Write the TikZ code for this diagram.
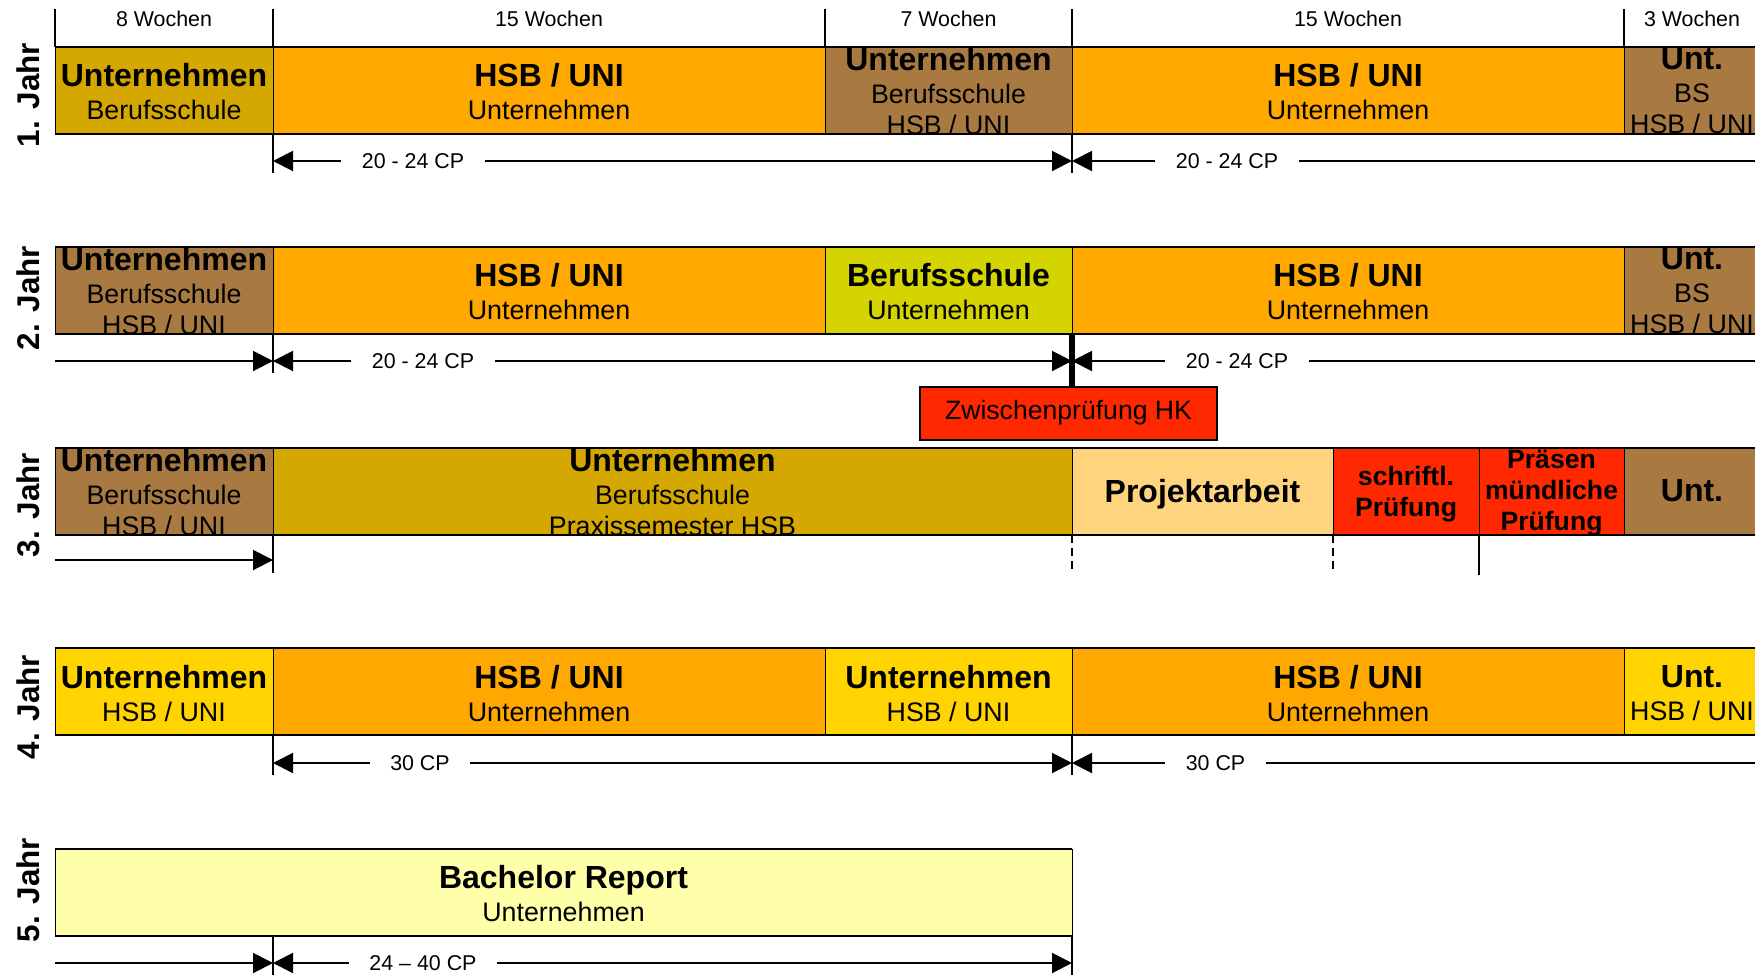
\documentclass[tikz,border=0pt]{standalone}
\usepackage{fontspec}
\setmainfont{Liberation Sans}
\usetikzlibrary{arrows.meta}

\definecolor{goldcell}{RGB}{212,168,0}
\definecolor{orangecell}{RGB}{255,168,0}
\definecolor{browncell}{RGB}{168,122,66}
\definecolor{limecell}{RGB}{212,212,0}
\definecolor{peachcell}{RGB}{255,212,127}
\definecolor{redcell}{RGB}{255,40,0}
\definecolor{yellowcell}{RGB}{255,212,0}
\definecolor{palecell}{RGB}{255,255,170}

\newcommand\cellhead[1]{{\fontsize{16}{16.6}\selectfont\bfseries #1}}

\begin{document}
\begin{tikzpicture}[
    x=0.5pt, y=-0.5pt,
    >={Triangle[length=10pt,width=10pt]},
    cellbox/.style={draw=black, line width=0.5pt},
    rowline/.style={line width=1.2pt},
    celltext/.style={align=center, inner sep=0pt, anchor=north, font=\fontsize{13.4}{16.6}\selectfont},
    examtext/.style={align=center, inner sep=0pt, anchor=north, font=\fontsize{13.3}{15.5}\selectfont\bfseries},
    weeks/.style={font=\fontsize{10.7}{12}\selectfont},
    cplabel/.style={fill=white, inner xsep=10pt, inner ysep=1pt, font=\fontsize{10.7}{12}\selectfont},
    jahr/.style={rotate=90, font=\fontsize{15.7}{18}\selectfont\bfseries},
    span/.style={line width=1pt},
    tick/.style={line width=0.6pt},
    dashtick/.style={line width=0.6pt, dash pattern=on 4pt off 2.5pt},
    pruefbox/.style={draw=black, line width=1pt, fill=redcell, minimum width=148.5pt, minimum height=26.5pt, font=\fontsize{13.3}{15}\selectfont}
]
\useasboundingbox (0,0) rectangle (1755,975);

% week header
\node[weeks] (w1) at (164,19) {8 Wochen};
\node[weeks] (w2) at (549,19) {15 Wochen};
\node[weeks] (w3) at (948.5,19) {7 Wochen};
\node[weeks] (w4) at (1348,19) {15 Wochen};
\node[weeks] (w5) at (1692,19) {3 Wochen};
\foreach \x in {55,273,825,1072,1624}
  \draw[tick] (\x,9) -- (\x,47);

% 1. Jahr
\filldraw[cellbox, fill=goldcell] (55,47) rectangle (273,134);
\filldraw[cellbox, fill=orangecell] (273,47) rectangle (825,134);
\filldraw[cellbox, fill=browncell] (825,47) rectangle (1072,134);
\filldraw[cellbox, fill=orangecell] (1072,47) rectangle (1624,134);
\filldraw[cellbox, fill=browncell] (1624,47) rectangle (1760,134);
\begin{scope}
  \clip (55,47) rectangle (1760,134);
  \node[celltext] (j1a) at (164,63) {\cellhead{Unternehmen}\\Berufsschule};
  \node[celltext] (j1b) at (549,63) {\cellhead{HSB / UNI}\\Unternehmen};
  \node[celltext] (j1c) at (948.5,47) {\cellhead{Unternehmen}\\Berufsschule\\[-1pt]HSB / UNI};
  \node[celltext] (j1d) at (1348,63) {\cellhead{HSB / UNI}\\Unternehmen};
  \node[celltext] (j1e) at (1692,47) {\cellhead{Unt.}\\BS\\[-1pt]HSB / UNI};
\end{scope}
\draw[rowline] (55,47) -- (1760,47) (55,134) -- (1760,134);

% 2. Jahr
\filldraw[cellbox, fill=browncell] (55,247) rectangle (273,334);
\filldraw[cellbox, fill=orangecell] (273,247) rectangle (825,334);
\filldraw[cellbox, fill=limecell] (825,247) rectangle (1072,334);
\filldraw[cellbox, fill=orangecell] (1072,247) rectangle (1624,334);
\filldraw[cellbox, fill=browncell] (1624,247) rectangle (1760,334);
\begin{scope}
  \clip (55,247) rectangle (1760,334);
  \node[celltext] (j2a) at (164,247) {\cellhead{Unternehmen}\\Berufsschule\\[-1pt]HSB / UNI};
  \node[celltext] (j2b) at (549,263) {\cellhead{HSB / UNI}\\Unternehmen};
  \node[celltext] (j2c) at (948.5,263) {\cellhead{Berufsschule}\\Unternehmen};
  \node[celltext] (j2d) at (1348,263) {\cellhead{HSB / UNI}\\Unternehmen};
  \node[celltext] (j2e) at (1692,247) {\cellhead{Unt.}\\BS\\[-1pt]HSB / UNI};
\end{scope}
\draw[rowline] (55,247) -- (1760,247) (55,334) -- (1760,334);

% 3. Jahr
\filldraw[cellbox, fill=browncell] (55,448) rectangle (273,535);
\filldraw[cellbox, fill=goldcell] (273,448) rectangle (1072,535);
\filldraw[cellbox, fill=peachcell] (1072,448) rectangle (1333,535);
\filldraw[cellbox, fill=redcell] (1333,448) rectangle (1479,535);
\filldraw[cellbox, fill=redcell] (1479,448) rectangle (1624,535);
\filldraw[cellbox, fill=browncell] (1624,448) rectangle (1760,535);
\begin{scope}
  \clip (55,448) rectangle (1760,535);
  \node[celltext] (j3a) at (164,448) {\cellhead{Unternehmen}\\Berufsschule\\[-1pt]HSB / UNI};
  \node[celltext] (j3b) at (672.5,448) {\cellhead{Unternehmen}\\Berufsschule\\[-1pt]Praxissemester HSB};
  \node[celltext] (j3c) at (1202.5,479) {\cellhead{Projektarbeit}};
  \node[examtext] (j3d) at (1406,466) {schriftl.\\Prüfung};
  \node[examtext] (j3e) at (1551.5,450) {Präsen\\mündliche\\Prüfung};
  \node[celltext] (j3f) at (1692,479) {\cellhead{Unt.}};
\end{scope}
\draw[rowline] (55,448) -- (1760,448) (55,535) -- (1760,535);

% 4. Jahr
\filldraw[cellbox, fill=yellowcell] (55,648) rectangle (273,735);
\filldraw[cellbox, fill=orangecell] (273,648) rectangle (825,735);
\filldraw[cellbox, fill=yellowcell] (825,648) rectangle (1072,735);
\filldraw[cellbox, fill=orangecell] (1072,648) rectangle (1624,735);
\filldraw[cellbox, fill=yellowcell] (1624,648) rectangle (1760,735);
\node[celltext] (j4a) at (164,665) {\cellhead{Unternehmen}\\HSB / UNI};
\node[celltext] (j4b) at (549,665) {\cellhead{HSB / UNI}\\Unternehmen};
\node[celltext] (j4c) at (948.5,665) {\cellhead{Unternehmen}\\HSB / UNI};
\node[celltext] (j4d) at (1348,665) {\cellhead{HSB / UNI}\\Unternehmen};
\node[celltext] (j4e) at (1692,665) {\cellhead{Unt.}\\HSB / UNI};
\draw[rowline] (55,648) -- (1760,648) (55,735) -- (1760,735);

% 5. Jahr
\filldraw[cellbox, fill=palecell] (55,849) rectangle (1072,936);
\node[celltext] (j5a) at (563.5,865) {\cellhead{Bachelor Report}\\Unternehmen};
\draw[rowline] (55,849) -- (1072,849) (55,936) -- (1072,936);

% year labels
\node[jahr] (l1) at (28,95) {1. Jahr};
\node[jahr] (l2) at (28,298) {2. Jahr};
\node[jahr] (l3) at (28,505) {3. Jahr};
\node[jahr] (l4) at (28,707) {4. Jahr};
\node[jahr] (l5) at (28,890) {5. Jahr};

% ticks below the bars
\draw[tick] (273,134) -- (273,173) (1072,134) -- (1072,173);
\draw[tick] (273,334) -- (273,373);
\draw[tick] (273,535) -- (273,573) (1479,535) -- (1479,575);
\draw[dashtick] (1072,535) -- (1072,573) (1333,535) -- (1333,573);
\draw[tick] (273,735) -- (273,775) (1072,735) -- (1072,775);
\draw[tick] (273,936) -- (273,975) (1072,936) -- (1072,975);

% credit spans
\coordinate (j1p1) at (273,161);
\coordinate (j1p2) at (1072,161);
\coordinate (j1p3) at (1760,161);
\node[cplabel] (j1cp1) at (413,161) {20 - 24 CP};
\node[cplabel] (j1cp2) at (1227,161) {20 - 24 CP};
\draw[span,<-] (j1p1) -- (j1cp1);
\draw[span,->] (j1cp1) -- (j1p2);
\draw[span,<-] (j1p2) -- (j1cp2);
\draw[span] (j1cp2) -- (j1p3);

\coordinate (j2p0) at (55,361);
\coordinate (j2p1) at (273,361);
\coordinate (j2p2) at (1072,361);
\coordinate (j2p3) at (1760,361);
\node[cplabel] (j2cp1) at (423,361) {20 - 24 CP};
\node[cplabel] (j2cp2) at (1237,361) {20 - 24 CP};
\draw[span,->] (j2p0) -- (j2p1);
\draw[span,<-] (j2p1) -- (j2cp1);
\draw[span,->] (j2cp1) -- (j2p2);
\draw[span,<-] (j2p2) -- (j2cp2);
\draw[span] (j2cp2) -- (j2p3);

% Zwischenpruefung
\coordinate (j2bar) at (1072,334);
\node[pruefbox] (zwp) at (1068.5,413) {Zwischenprüfung HK};
\draw[line width=2.8pt] (j2bar) -- (j2bar |- zwp.north);

\coordinate (j3p0) at (55,560);
\coordinate (j3p1) at (273,560);
\draw[span,->] (j3p0) -- (j3p1);

\coordinate (j4p1) at (273,763);
\coordinate (j4p2) at (1072,763);
\coordinate (j4p3) at (1760,763);
\node[cplabel] (j4cp1) at (420,763) {30 CP};
\node[cplabel] (j4cp2) at (1215.5,763) {30 CP};
\draw[span,<-] (j4p1) -- (j4cp1);
\draw[span,->] (j4cp1) -- (j4p2);
\draw[span,<-] (j4p2) -- (j4cp2);
\draw[span] (j4cp2) -- (j4p3);

\coordinate (j5p0) at (55,963);
\coordinate (j5p1) at (273,963);
\coordinate (j5p2) at (1072,963);
\node[cplabel] (j5cp1) at (423,963) {24 -- 40 CP};
\draw[span,->] (j5p0) -- (j5p1);
\draw[span,<-] (j5p1) -- (j5cp1);
\draw[span,->] (j5cp1) -- (j5p2);
\end{tikzpicture}
\end{document}
